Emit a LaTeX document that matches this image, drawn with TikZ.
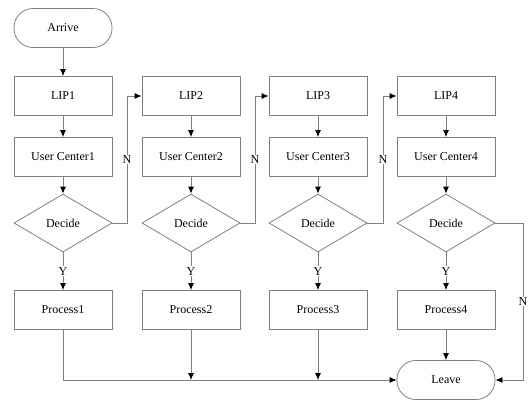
\documentclass[tikz,border=0pt]{standalone}
\usepackage{fontspec}
\setmainfont{Liberation Serif}
\usetikzlibrary{shapes.geometric,arrows.meta}
\definecolor{ln}{HTML}{808080}
\begin{document}
\begin{tikzpicture}[x=1pt,y=-1pt,
  font=\fontsize{12}{14}\selectfont,
  every node/.style={text=black},
  box/.style={draw=ln,line width=0.8pt,rectangle,minimum width=98pt,minimum height=39pt,inner sep=0pt},
  term/.style={draw=ln,line width=0.8pt,rectangle,rounded corners=19pt,minimum width=98pt,minimum height=39pt,inner sep=0pt},
  dec/.style={draw=ln,line width=0.8pt,diamond,minimum width=98pt,minimum height=58pt,inner sep=0pt},
  conn/.style={draw=ln,line width=0.8pt},
  arr/.style={conn,-{Latex[length=7pt,width=6pt,color=black]}},
  lab/.style={fill=white,inner sep=1pt}]
\useasboundingbox (0,0) rectangle (530,402);
\node[term] (arrive) at (63,28) {Arrive};
\foreach \i/\x in {1/63,2/191,3/318,4/446}{
  \node[box] (lip\i) at (\x,96) {LIP\i};
  \node[box] (uc\i) at (\x,157) {User Center\i};
  \node[dec] (d\i) at (\x,223) {Decide};
  \node[box] (p\i) at (\x,310) {Process\i};
  \draw[arr] (lip\i) -- (uc\i);
  \draw[arr] (uc\i) -- (d\i);
  \draw[arr] (d\i) -- node[lab]{Y} (p\i);
}
\node[term] (leave) at (446,380) {Leave};
\draw[arr] (arrive) -- (lip1);
\foreach \a/\b/\xr in {1/2/127,2/3/255,3/4/383}{
  \coordinate (r\a) at (\xr,223);
  \coordinate (s\a) at (\xr,96);
  \draw[arr] (d\a.east) -- (r\a) -- node[lab,pos=0.5]{N} (s\a) -- (lip\b.west);
}
\coordinate (j1) at (63,380);
\coordinate (j2) at (191,380);
\coordinate (j3) at (318,380);
\draw[arr] (p1.south) -- (j1) -- (leave.west);
\draw[arr] (p2.south) -- (j2);
\draw[arr] (p3.south) -- (j3);
\draw[arr] (p4) -- (leave);
\coordinate (e1) at (523,223);
\coordinate (e2) at (523,380);
\draw[arr] (d4.east) -- (e1) -- node[lab,pos=0.5]{N} (e2) -- (leave.east);
\end{tikzpicture}
\end{document}
